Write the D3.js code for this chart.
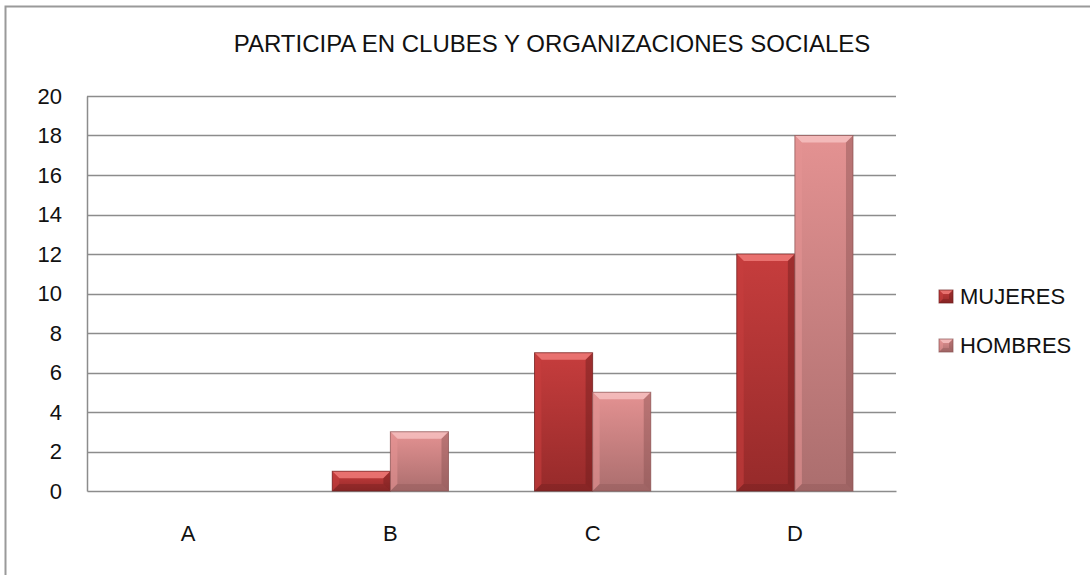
<!DOCTYPE html>
<html>
<head>
<meta charset="utf-8">
<script src="https://cdn.jsdelivr.net/npm/d3@7"></script>
<style>
  body { margin: 0; background: #fff; }
  text { font-family: "Liberation Sans", Arial, sans-serif; fill: #111; }
</style>
</head>
<body>
<div class="chart"></div>
<script>
// DATA ------------------------------
const categories = ['A', 'B', 'C', 'D']
const seriesNames = ['MUJERES', 'HOMBRES']
const mujeres = [0, 1, 7, 12]
const hombres = [0, 3, 5, 18]
const yTicks = [0, 2, 4, 6, 8, 10, 12, 14, 16, 18, 20]

const data = categories.map((c, i) => ({cat: c, MUJERES: mujeres[i], HOMBRES: hombres[i]}))

// MARGIN CONVENTION
const W = 1090, H = 575
const margin = ({top: 96, right: 194, bottom: 84, left: 87})
const width = W - margin.left - margin.right
const height = H - margin.top - margin.bottom
const FONT = '"Liberation Sans", Arial, sans-serif'

const root = d3.select('.chart').append('svg')
	.attr('width', W)
	.attr('height', H)

// colours: top, bottom of gradient + bevel light / dark
const colors = {
	MUJERES: {top: '#c63d3d', bot: '#962a2a', light: '#ee7a78', dark: '#6e1c1c'},
	HOMBRES: {top: '#e49292', bot: '#ab6e6e', light: '#f6c0bf', dark: '#8a5353'}
}

const defs = root.append('defs')
seriesNames.forEach(s => {
	let g = defs.append('linearGradient').attr('id', 'grad-' + s)
		.attr('x1', 0).attr('y1', 0).attr('x2', 0).attr('y2', 1)
	g.append('stop').attr('offset', '0%').attr('stop-color', colors[s].top)
	g.append('stop').attr('offset', '100%').attr('stop-color', colors[s].bot)
})

// outer frame (only left and top visible)
root.append('path')
	.attr('d', 'M5.5,575 V6.5 H1090')
	.attr('fill', 'none')
	.attr('stroke', '#9a9a9a')
	.attr('stroke-width', 2)

const svg = root.append('g')
	.attr('transform', `translate(${margin.left},${margin.top})`)

// scales
let xScale = d3.scaleBand()
	.domain(categories)
	.range([0, width])
	.paddingInner(0)
let xSub = d3.scaleBand()
	.domain(seriesNames)
	.range([0, xScale.bandwidth()])
	.paddingOuter(0.74)
let yScale = d3.scaleLinear()
	.domain([0, 20])
	.range([height, 0])

// gridlines
svg.append('g')
	.selectAll('line')
	.data(yTicks.filter(d => d > 0))
	.join('line')
	.attr('x1', 0)
	.attr('x2', width)
	.attr('y1', d => Math.round(yScale(d)) + 0.5)
	.attr('y2', d => Math.round(yScale(d)) + 0.5)
	.attr('stroke', '#8c8c8c')
	.attr('stroke-width', 1.5)

// axes
let yAxis = d3.axisLeft(yScale).tickValues(yTicks).tickSize(0).tickPadding(25)
let yAxisG = svg.append('g').attr('class', 'axis y-axis').call(yAxis)
yAxisG.select('.domain').attr('stroke', '#8c8c8c').attr('stroke-width', 1.5)
yAxisG.selectAll('text')
	.attr('font-size', 22)
	.attr('font-family', FONT)
	.attr('fill', '#111')

let xAxis = d3.axisBottom(xScale).tickSize(0).tickPadding(34)
let xAxisG = svg.append('g').attr('class', 'axis x-axis')
	.attr('transform', `translate(0,${height})`)
	.call(xAxis)
xAxisG.select('.domain').attr('stroke', '#8c8c8c').attr('stroke-width', 1.5)
xAxisG.selectAll('text')
	.attr('font-size', 22)
	.attr('font-family', FONT)
	.attr('fill', '#111')

// bars with bevel
function bevelBar(g, x, y, w, h, s, b) {
	if (h <= 0) return
	b = Math.min(b, h / 2, w / 2)
	let c = colors[s]
	g.append('rect').attr('x', x).attr('y', y).attr('width', w).attr('height', h)
		.attr('fill', `url(#grad-${s})`)
	// top bevel
	g.append('polygon')
		.attr('points', [[x, y], [x + w, y], [x + w - b, y + b], [x + b, y + b]].join(' '))
		.attr('fill', c.light).attr('opacity', 0.85)
	// left bevel
	g.append('polygon')
		.attr('points', [[x, y], [x + b, y + b], [x + b, y + h - b], [x, y + h]].join(' '))
		.attr('fill', c.top).attr('opacity', 0.6)
	// right bevel
	g.append('polygon')
		.attr('points', [[x + w, y], [x + w - b, y + b], [x + w - b, y + h - b], [x + w, y + h]].join(' '))
		.attr('fill', c.dark).attr('opacity', 0.45)
	// bottom bevel
	g.append('polygon')
		.attr('points', [[x, y + h], [x + b, y + h - b], [x + w - b, y + h - b], [x + w, y + h]].join(' '))
		.attr('fill', c.dark).attr('opacity', 0.35)
	g.append('rect').attr('x', x).attr('y', y).attr('width', w).attr('height', h)
		.attr('fill', 'none').attr('stroke', c.dark).attr('stroke-width', 1).attr('opacity', 0.7)
}

let groups = svg.append('g').selectAll('g')
	.data(data)
	.join('g')
	.attr('transform', d => `translate(${xScale(d.cat)},0)`)

groups.each(function(d) {
	let g = d3.select(this)
	seriesNames.forEach(s => {
		let v = d[s]
		bevelBar(g, xSub(s), yScale(v), xSub.bandwidth(), height - yScale(v), s, 7)
	})
})

// title
root.append('text')
	.attr('x', 552)
	.attr('y', 52)
	.attr('text-anchor', 'middle')
	.attr('font-size', 24)
	.text('PARTICIPA EN CLUBES Y ORGANIZACIONES SOCIALES')

// legend
let legend = root.append('g').attr('transform', 'translate(939,290)')
seriesNames.forEach((s, i) => {
	let lg = legend.append('g').attr('transform', `translate(0,${i * 49})`)
	bevelBar(lg, 0, 0, 14, 13, s, 4)
	lg.append('text')
		.attr('x', 21)
		.attr('y', 14)
		.attr('font-size', 22)
		.text(s)
})
</script>
</body>
</html>
